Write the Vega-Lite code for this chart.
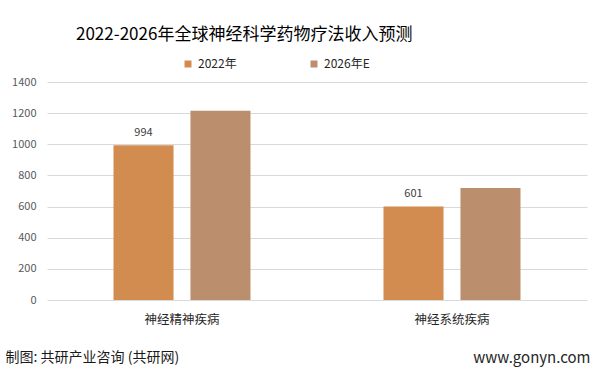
{
  "$schema": "https://vega.github.io/schema/vega-lite/v6.json",
  "width": 540,
  "height": 218,
  "autosize": {"type": "none"},
  "padding": {"left": 47, "top": 82, "right": 11, "bottom": 71},
  "background": "white",
  "config": {
    "view": {"stroke": null},
    "font": "Noto Sans CJK SC"
  },
  "title": {
    "text": "2022-2026年全球神经科学药物疗法收入预测",
    "font": "Noto Sans CJK SC",
    "fontSize": 17,
    "fontWeight": "normal",
    "color": "#000000",
    "anchor": "start",
    "frame": "group",
    "dx": 29,
    "offset": 14
  },
  "data": {
    "values": [
      {"cat": "神经精神疾病", "series": "2022年", "value": 994},
      {"cat": "神经精神疾病", "series": "2026年E", "value": 1215},
      {"cat": "神经系统疾病", "series": "2022年", "value": 601},
      {"cat": "神经系统疾病", "series": "2026年E", "value": 720}
    ]
  },
  "encoding": {
    "x": {
      "field": "cat",
      "type": "nominal",
      "sort": null,
      "scale": {"paddingInner": 0.4926, "paddingOuter": 0.2463},
      "axis": {
        "labelAngle": 0,
        "labelFontSize": 12.5,
        "labelColor": "#262626",
        "labelPadding": 13,
        "ticks": false,
        "domain": false,
        "title": "制图: 共研产业咨询 (共研网)",
        "titleFontSize": 14,
        "titleFontWeight": "normal",
        "titleColor": "#1a1a1a",
        "titleAnchor": "start",
        "titleAlign": "left",
        "titleBaseline": "middle",
        "titleX": -42,
        "titleY": 57
      }
    },
    "xOffset": {
      "field": "series",
      "type": "nominal",
      "sort": ["2022年", "2026年E"],
      "scale": {"paddingInner": 0.22, "paddingOuter": 0}
    },
    "y": {
      "field": "value",
      "type": "quantitative",
      "scale": {"domain": [0, 1400]},
      "axis": {
        "values": [0, 200, 400, 600, 800, 1000, 1200, 1400],
        "format": "d",
        "labelFontSize": 11,
        "labelColor": "#595959",
        "labelPadding": 11,
        "ticks": false,
        "domain": false,
        "gridColor": "#d9d9d9",
        "gridWidth": 1,
        "title": "www.gonyn.com",
        "titleAngle": 0,
        "titleFontSize": 15,
        "titleFontWeight": "normal",
        "titleColor": "#262626",
        "titleAlign": "right",
        "titleBaseline": "middle",
        "titleX": 543,
        "titleY": 275
      }
    }
  },
  "layer": [
    {
      "mark": {"type": "bar"},
      "encoding": {
        "color": {
          "field": "series",
          "type": "nominal",
          "sort": ["2022年", "2026年E"],
          "scale": {"range": ["#D38C4F", "#BB8E6D"]},
          "legend": {
            "title": null,
            "orient": "none",
            "direction": "horizontal",
            "legendX": 135,
            "legendY": -24,
            "symbolType": "square",
            "symbolSize": 49,
            "symbolStrokeWidth": 0,
            "labelFontSize": 12,
            "labelColor": "#262626",
            "labelOffset": 4,
            "columnPadding": 71
          }
        }
      }
    },
    {
      "transform": [{"filter": "datum.series === '2022年'"}],
      "mark": {"type": "text", "dy": -12, "fontSize": 11, "color": "#404040"},
      "encoding": {
        "text": {"field": "value", "type": "quantitative"}
      }
    }
  ]
}
